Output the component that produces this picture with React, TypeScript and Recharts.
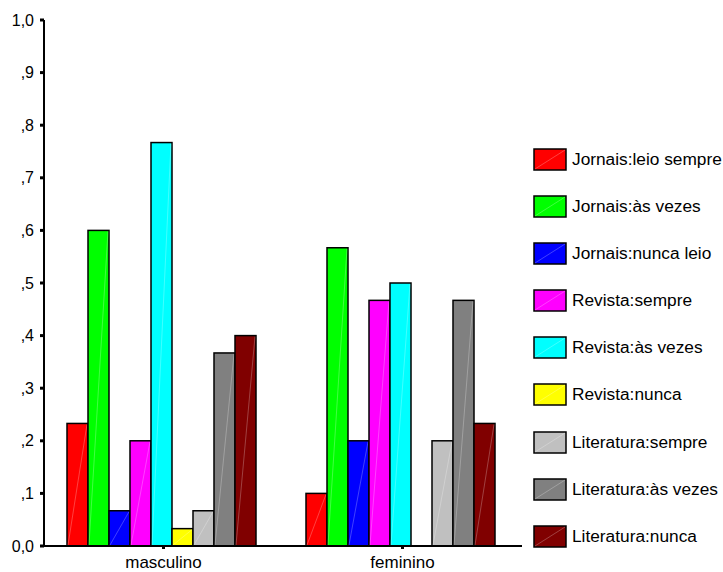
import { BarChart, Bar, XAxis, YAxis, Legend } from 'recharts';

const categories = ['masculino', 'feminino'];

const seriesNames = [
    'Jornais:leio sempre',
    'Jornais:às vezes',
    'Jornais:nunca leio',
    'Revista:sempre',
    'Revista:às vezes',
    'Revista:nunca',
    'Literatura:sempre',
    'Literatura:às vezes',
    'Literatura:nunca',
];

const seriesColors = ['#FF0000', '#00FF00', '#0000FF', '#FF00FF', '#00FFFF', '#FFFF00', '#C0C0C0', '#808080', '#800000'];

const masculinoValues = [0.233, 0.6, 0.067, 0.2, 0.767, 0.033, 0.067, 0.367, 0.4];
const femininoValues = [0.1, 0.567, 0.2, 0.467, 0.5, 0, 0.2, 0.467, 0.233];

const yTicks = [0, 0.1, 0.2, 0.3, 0.4, 0.5, 0.6, 0.7, 0.8, 0.9, 1];
const yTickLabels = ['0,0', ',1', ',2', ',3', ',4', ',5', ',6', ',7', ',8', ',9', '1,0'];

const valuesByCategory = [masculinoValues, femininoValues];

const data = categories.map((name, i) => {
    const row: any = { name };
    seriesNames.forEach((s, j) => {
        row['s' + j] = valuesByCategory[i][j];
    });
    return row;
});

const FONT = '"Liberation Sans", Arial, sans-serif';

const BarShape = (props: any) => {
    const { x, y, width, height, fill } = props;
    if (!height || height <= 0) return <g />;
    return (
        <g>
            <rect x={x} y={y} width={width} height={height} fill={fill} stroke="#000" strokeWidth={1.5} />
            <line x1={x + 1} y1={y + height - 1} x2={x + width - 1} y2={y + 1} stroke="#fff" strokeOpacity={0.25} strokeWidth={1} />
        </g>
    );
};

const LegendContent = () => (
    <div style={{ fontFamily: FONT, fontSize: 17.3, color: '#000' }}>
        {seriesNames.map((name, i) => (
            <div key={name} style={{ height: 47.1, display: 'flex', alignItems: 'flex-start' }}>
                <svg width={34} height={23} style={{ flex: 'none' }}>
                    <rect x={1} y={1} width={32} height={21} fill={seriesColors[i]} stroke="#000" strokeWidth={1.5} />
                    <line x1={2} y1={21} x2={32} y2={2} stroke="#fff" strokeOpacity={0.25} />
                </svg>
                <span style={{ marginLeft: 5, lineHeight: '23px', whiteSpace: 'nowrap' }}>{name}</span>
            </div>
        ))}
    </div>
);

export default function App() {
    return (
        <div style={{ position: 'fixed', left: 0, top: 0, width: 723, height: 572, background: '#fff' }}>
            <BarChart
                width={723}
                height={572}
                data={data}
                margin={{ top: 20, right: 201, left: 0, bottom: 0 }}
                barCategoryGap={23}
                barGap={0}
            >
                <XAxis
                    dataKey="name"
                    height={26}
                    axisLine={{ stroke: '#000', strokeWidth: 2 }}
                    tickLine={{ stroke: '#000', strokeWidth: 3 }}
                    tickSize={3}
                    tickMargin={7}
                    tick={{ fontSize: 17, fill: '#000', fontFamily: FONT }}
                />
                <YAxis
                    width={44}
                    domain={[0, 1]}
                    ticks={yTicks}
                    interval={0}
                    axisLine={{ stroke: '#000', strokeWidth: 2 }}
                    tickLine={{ stroke: '#000', strokeWidth: 3 }}
                    tickSize={4}
                    tickMargin={6}
                    tickFormatter={(v: number) => yTickLabels[yTicks.indexOf(v)]}
                    tick={{ fontSize: 16, fill: '#000', fontFamily: FONT }}
                />
                <Legend
                    layout="vertical"
                    align="center"
                    verticalAlign="middle"
                    content={<LegendContent />}
                    wrapperStyle={{ left: 533, top: 148, width: 190 }}
                />
                {seriesNames.map((name, j) => (
                    <Bar
                        key={name}
                        dataKey={'s' + j}
                        name={name}
                        fill={seriesColors[j]}
                        shape={<BarShape />}
                        isAnimationActive={false}
                    />
                ))}
            </BarChart>
        </div>
    );
}
